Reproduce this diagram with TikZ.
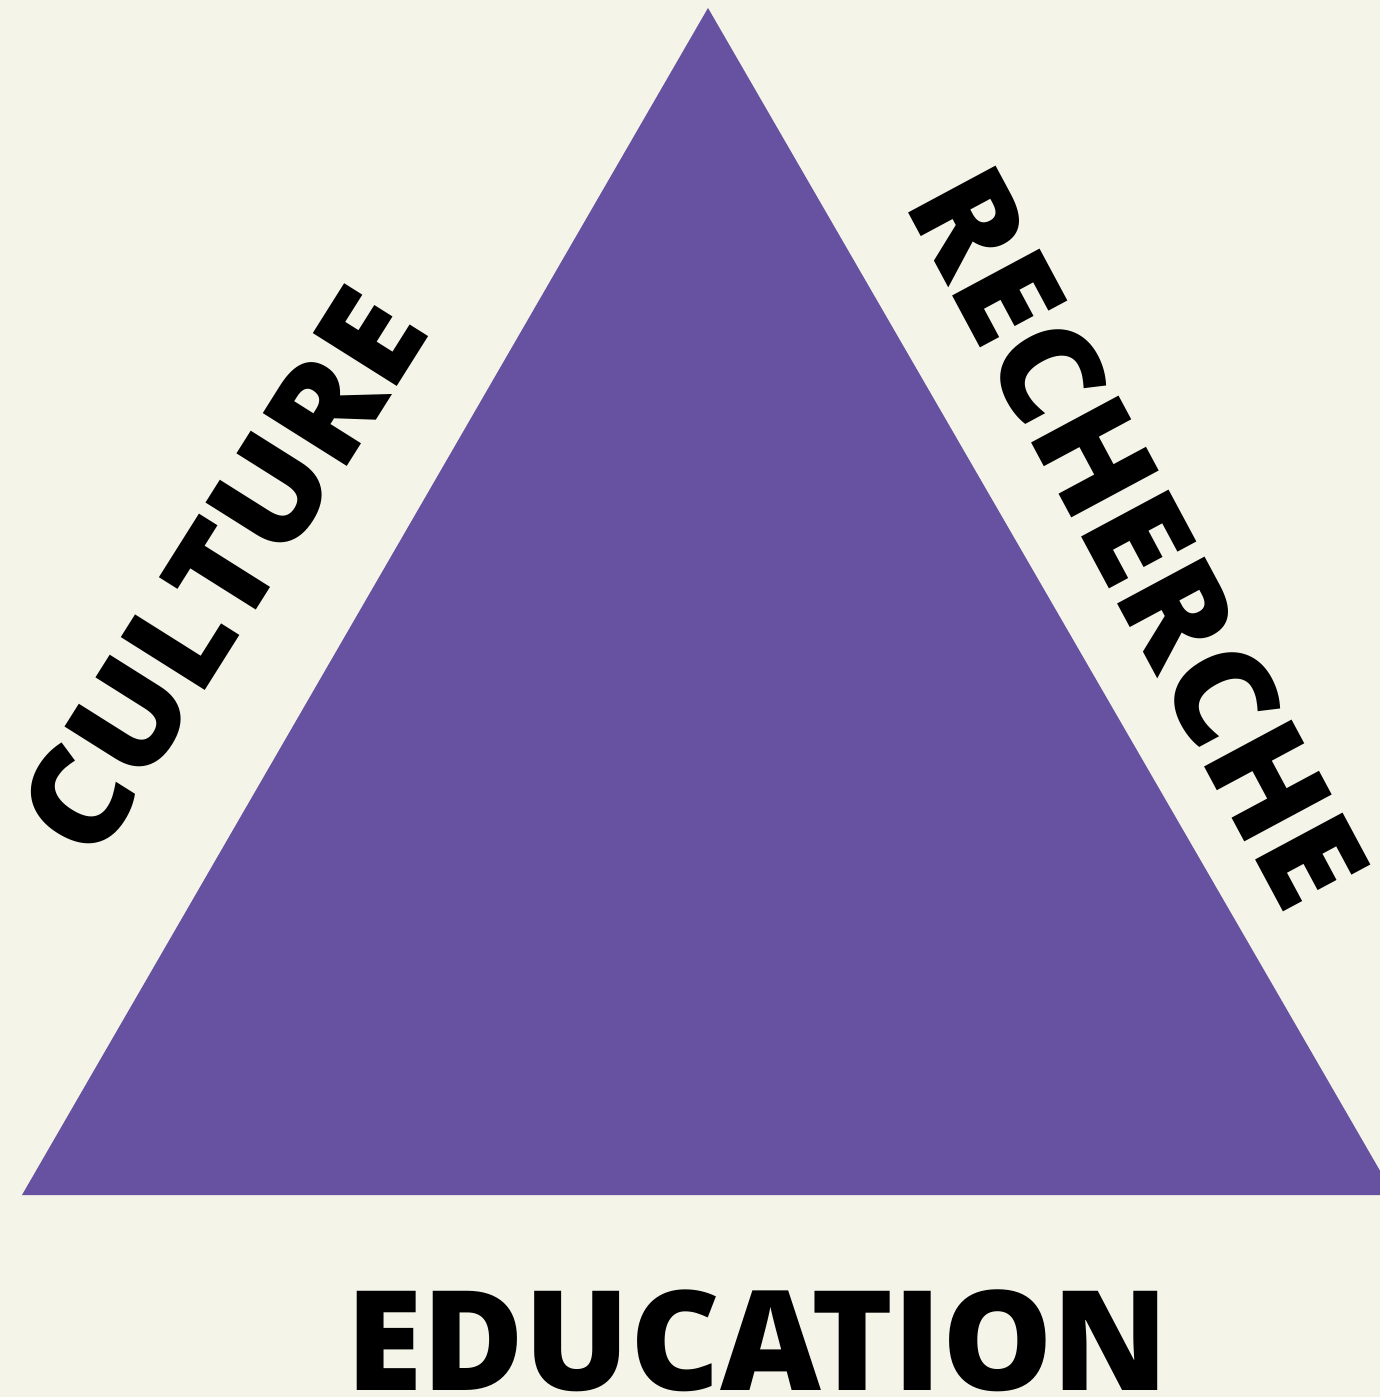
\documentclass[tikz,border=0pt]{standalone}
\usepackage{fontspec}
\IfFontExistsTF{Open Sans ExtraBold}{%
  \setmainfont{Open Sans}[BoldFont={Open Sans ExtraBold}]}{%
  \IfFontExistsTF{Open Sans Extrabold}{%
    \setmainfont{Open Sans}[BoldFont={Open Sans Extrabold}]}{%
    \setmainfont{Open Sans}[BoldFeatures={FakeBold=3.5}]}}
\definecolor{bgc}{HTML}{F4F5E8}
\definecolor{tri}{HTML}{6751A1}
\tikzset{
  word/.style={inner sep=0pt, outer sep=0pt, anchor=base, text=black,
    font=\fontsize{139}{139}\selectfont\bfseries}
}
\begin{document}
\begin{tikzpicture}[x=1pt,y=-1pt]
  \useasboundingbox (0,0) rectangle (1380,1397);
  \fill[bgc] (0,0) rectangle (1380,1397);
  \begin{scope}
    \clip (0,0) rectangle (1380,1397);
    \coordinate (apex) at (708,8);
    \coordinate (bl) at (22,1195);
    \coordinate (br) at (1394,1195);
    \fill[tri] (apex) -- (bl) -- (br) -- cycle;
    \node[word, rotate=57.8] (culture) at (263.6,598) {CULTURE};
    \node[word, rotate=-61.8] (recherche) at (1094.7,561) {RECHERCHE};
    \node[word] (education) at (757.5,1390) {EDUCATION};
  \end{scope}
\end{tikzpicture}
\end{document}
